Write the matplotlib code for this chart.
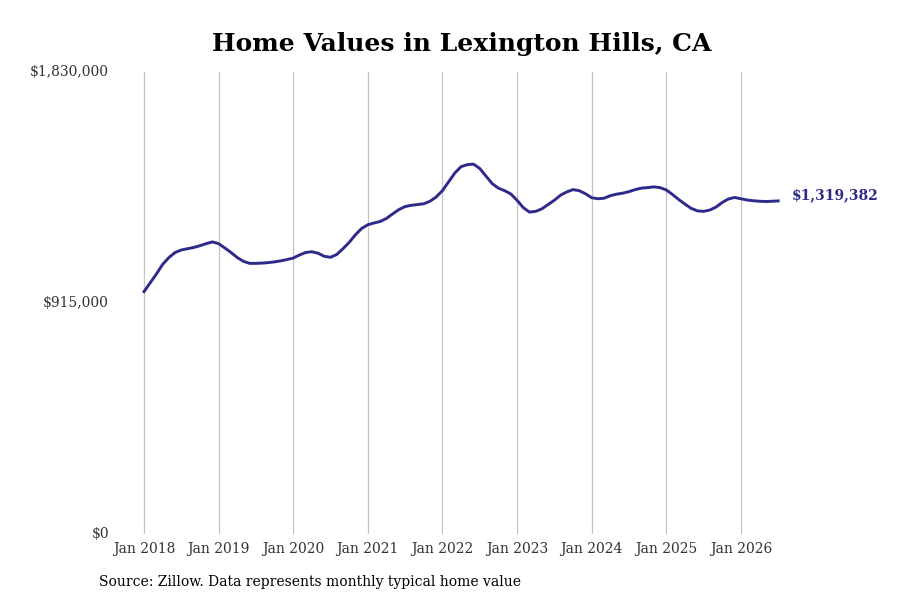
import numpy as np
import matplotlib
matplotlib.use("Agg")
import matplotlib.pyplot as plt

# typical home value, monthly from Jan 2018 to Jul 2026
values = [
    960000, 995000, 1030000, 1068000, 1095000, 1115000, 1125000, 1130000, 1135000, 1142000, 1150000, 1157000,
    1150000, 1133000, 1115000, 1095000, 1080000, 1072000, 1072000, 1073000, 1075000, 1078000, 1082000, 1087000,
    1093000, 1105000, 1115000, 1118000, 1112000, 1100000, 1096000, 1107000, 1130000, 1155000, 1185000, 1210000,
    1225000, 1232000, 1238000, 1250000, 1268000, 1285000, 1297000, 1302000, 1305000, 1308000, 1318000, 1335000,
    1360000, 1395000, 1430000, 1455000, 1463000, 1465000, 1448000, 1418000, 1388000, 1370000, 1360000, 1347000,
    1322000, 1293000, 1275000, 1278000, 1288000, 1305000, 1322000, 1342000, 1355000, 1364000, 1360000, 1348000,
    1332000, 1328000, 1330000, 1340000, 1346000, 1350000, 1356000, 1364000, 1370000, 1372000, 1375000, 1372000,
    1363000, 1345000, 1325000, 1307000, 1290000, 1280000, 1278000, 1283000, 1295000, 1313000, 1327000, 1333000,
    1328000, 1323000, 1320000, 1318000, 1317000, 1318000, 1319382,
]
years = ["Jan 2018", "Jan 2019", "Jan 2020", "Jan 2021", "Jan 2022",
         "Jan 2023", "Jan 2024", "Jan 2025", "Jan 2026"]
yticks = [0, 915000, 1830000]
ylabels = ["$0", "$915,000", "$1,830,000"]

plt.rcParams['font.family'] = ['DejaVu Serif']
color = '#2e2a8a'

fig = plt.figure(figsize=(9, 6), dpi=100)
ax = fig.add_axes([120/900, 0.11, 660/900, 0.77])

months = np.arange(len(values))
ax.plot(months, values, color=color, linewidth=2.1, clip_on=False, zorder=3)

ax.set_xlim(-3.86, 102.3)
ax.set_ylim(0, 1830000)
ax.set_xticks(np.arange(len(years)) * 12)
ax.set_xticklabels(years, fontsize=10, color='#333333')
ax.set_yticks(yticks)
ax.set_yticklabels(ylabels, fontsize=10, color='#333333')
ax.tick_params(length=0)
ax.tick_params(axis='x', pad=6)
ax.tick_params(axis='y', pad=8)
for lbl in ax.get_yticklabels():
    lbl.set_verticalalignment('center')
ax.grid(axis='x', color='#c4c4c4', linewidth=0.9)
for s in ax.spines.values():
    s.set_visible(False)

ax.text(months[-1] + 2.2, values[-1] + 22000, "$1,319,382", color=color,
        fontsize=10, fontweight='bold', va='center', ha='left', clip_on=False)

fig.text(461.5/900, 0.927, "Home Values in Lexington Hills, CA", ha='center', va='center',
         fontsize=18, fontweight='bold')
fig.text(99/900, 1 - 582/600, "Source: Zillow. Data represents monthly typical home value",
         ha='left', va='center', fontsize=10)

fig.savefig("out.png", dpi=100)
